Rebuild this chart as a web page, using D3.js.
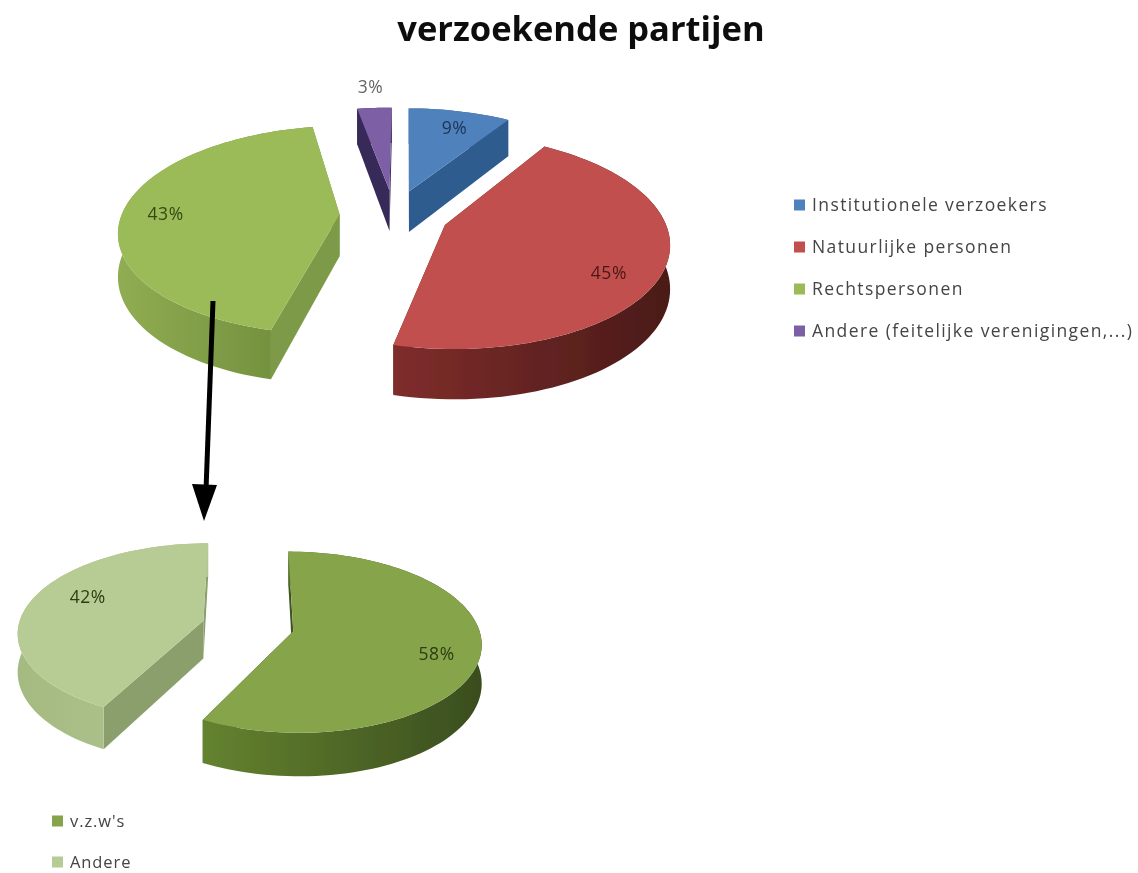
<!DOCTYPE html>
<html lang="en">
<head>
<meta charset="utf-8">
<title>verzoekende partijen</title>
<script src="https://cdn.jsdelivr.net/npm/d3@7"></script>
<style>
  html, body { margin: 0; padding: 0; background: #fff; }
  svg { display: block; }
  text { font-family: "Open Sans", sans-serif; }
</style>
</head>
<body>
<script>
// data, labels only show the rounded percentages
var partyNames = ["Institutionele verzoekers", "Natuurlijke personen", "Rechtspersonen", "Andere (feitelijke verenigingen,...)"];
var partyValues = [8.9, 44.7, 43.4, 3.0];
var subNames = ["v.z.w's", "Andere"];
var subValues = [57.6, 42.4];

// look of the slices
var partyTop = ["#4f81bd", "#c0504d", "#9bbb59", "#7d5fa5"];
var partySide = ["#2f5b8e", "#6a2422", "#7d9a48", "#382a58"];
var partyWall = [["#2f5b8e", "#2f5b8e"], ["#7f2d2b", "#4a1a18"], ["#90ad53", "#6d8a3a"], ["#382a58", "#382a58"]];
var partyLabelR = [0.78, 0.8, 0.8, 1.3];
var partyLabelTurn = [2, 9, -1, 0];
var partyLabelColor = ["#1d3555", "#4a1816", "#334a12", "#666666"];

var subTop = ["#86a44a", "#b7cc95"];
var subSide = ["#3f5420", "#8b9f6c"];
var subWall = [["#64832f", "#3a4d1e"], ["#a5ba80", "#b3c596"]];
var subLabelR = [0.78, 0.72];
var subLabelTurn = [5, 10];
var subLabelColor = ["#2c3d12", "#2c3d12"];

var svg = d3.select("body").append("svg")
  .attr("width", 1138)
  .attr("height", 873);

var defs = svg.append("defs");
defs.append("filter").attr("id", "soft")
  .attr("x", "-5%").attr("y", "-5%").attr("width", "110%").attr("height", "110%")
  .append("feGaussianBlur").attr("stdDeviation", 0.6);

var root = svg.append("g").attr("filter", "url(#soft)");

var rad = Math.PI / 180;
var line = d3.line();
var pct = d3.format(".0f");

function drawPie(opt) {
  var arcs = d3.pie().sort(null)
    .startAngle(opt.start * rad)
    .endAngle(opt.start * rad + 2 * Math.PI)(opt.values);

  // world point -> screen, things toward the viewer get bigger
  function project(X, Y, z) {
    var s = 1 / (1 + opt.persp * Y);
    return [opt.cx + opt.rx * X * s, opt.cy - opt.ry * Y * s + (z || 0) * s];
  }

  var g = root.append("g");

  arcs.forEach(function(d, i) {
    var mid = (d.startAngle + d.endAngle) / 2;
    var ax = opt.explode * Math.sin(mid);
    var ay = opt.explode * Math.cos(mid);

    function rim(a, r, z) {
      return project(ax + r * Math.sin(a), ay + r * Math.cos(a), z);
    }

    var n = Math.max(8, Math.round((d.endAngle - d.startAngle) / rad / 2));
    var angles = d3.range(n + 1).map(function(k) {
      return d.startAngle + (d.endAngle - d.startAngle) * k / n;
    });

    // the two cut faces
    [d.startAngle, d.endAngle].forEach(function(a) {
      g.append("path")
        .attr("d", line([rim(a, 0, 0), rim(a, 1, 0), rim(a, 1, opt.depth), rim(a, 0, opt.depth)]) + "Z")
        .attr("fill", opt.side[i]);
    });

    // outer wall
    var gradId = opt.id + "-wall-" + i;
    var grad = defs.append("linearGradient").attr("id", gradId);
    grad.append("stop").attr("offset", "0%").attr("stop-color", opt.wall[i][0]);
    grad.append("stop").attr("offset", "100%").attr("stop-color", opt.wall[i][1]);

    var topRim = angles.map(function(a) { return rim(a, 1, 0); });
    var lowRim = angles.map(function(a) { return rim(a, 1, opt.depth); }).reverse();
    g.append("path")
      .attr("d", line(topRim.concat(lowRim)) + "Z")
      .attr("fill", "url(#" + gradId + ")");

    d.face = [rim(0, 0, 0)].concat(topRim);
    d.labelAt = rim(mid + opt.labelTurn[i] * rad, opt.labelR[i], 0);
  });

  // top faces last so they hide the walls behind them
  arcs.forEach(function(d, i) {
    g.append("path")
      .attr("d", line(d.face) + "Z")
      .attr("fill", opt.top[i]);
  });

  arcs.forEach(function(d, i) {
    g.append("text")
      .attr("x", d.labelAt[0])
      .attr("y", d.labelAt[1])
      .attr("dy", "0.35em")
      .attr("text-anchor", "middle")
      .attr("font-size", 17.5)
      .attr("letter-spacing", 0.6)
      .attr("fill", opt.labelColor[i])
      .text(pct(d.value) + "%");
  });
}

drawPie({
  id: "party", values: partyValues, start: 0.5,
  cx: 394, cy: 215, rx: 218, ry: 102, persp: 0.15, depth: 42, explode: 0.25,
  top: partyTop, side: partySide, wall: partyWall,
  labelR: partyLabelR, labelTurn: partyLabelTurn, labelColor: partyLabelColor
});

drawPie({
  id: "sub", values: subValues, start: 0,
  cx: 248, cy: 626, rx: 185, ry: 88, persp: 0.12, depth: 38, explode: 0.25,
  top: subTop, side: subSide, wall: subWall,
  labelR: subLabelR, labelTurn: subLabelTurn, labelColor: subLabelColor
});

// title
root.append("text")
  .attr("x", 581)
  .attr("y", 41)
  .attr("text-anchor", "middle")
  .attr("font-size", 34.5)
  .attr("font-weight", 700)
  .attr("fill", "#111")
  .text("verzoekende partijen");

// arrow between the two pies
root.append("line")
  .attr("x1", 213).attr("y1", 301)
  .attr("x2", 206).attr("y2", 490)
  .attr("stroke", "#000")
  .attr("stroke-width", 5);
root.append("path")
  .attr("d", "M192,484L217,485L204,521Z")
  .attr("fill", "#000");

// legends
function legend(names, colors, x, y0, step, size, spacing) {
  var row = root.append("g").selectAll("g").data(names).enter().append("g")
    .attr("transform", function(d, i) { return "translate(" + x + "," + (y0 + i * step) + ")"; });
  row.append("rect")
    .attr("x", 0).attr("y", -5.5)
    .attr("width", 11).attr("height", 11)
    .attr("fill", function(d, i) { return colors[i]; });
  row.append("text")
    .attr("x", 18)
    .attr("dy", "0.35em")
    .attr("font-size", size)
    .attr("letter-spacing", spacing)
    .attr("fill", "#444")
    .text(function(d) { return d; });
}

legend(partyNames, partyTop, 794, 205, 42, 17.5, 1.4);
legend(subNames, subTop, 52, 821, 41, 16.5, 0.9);
</script>
</body>
</html>
